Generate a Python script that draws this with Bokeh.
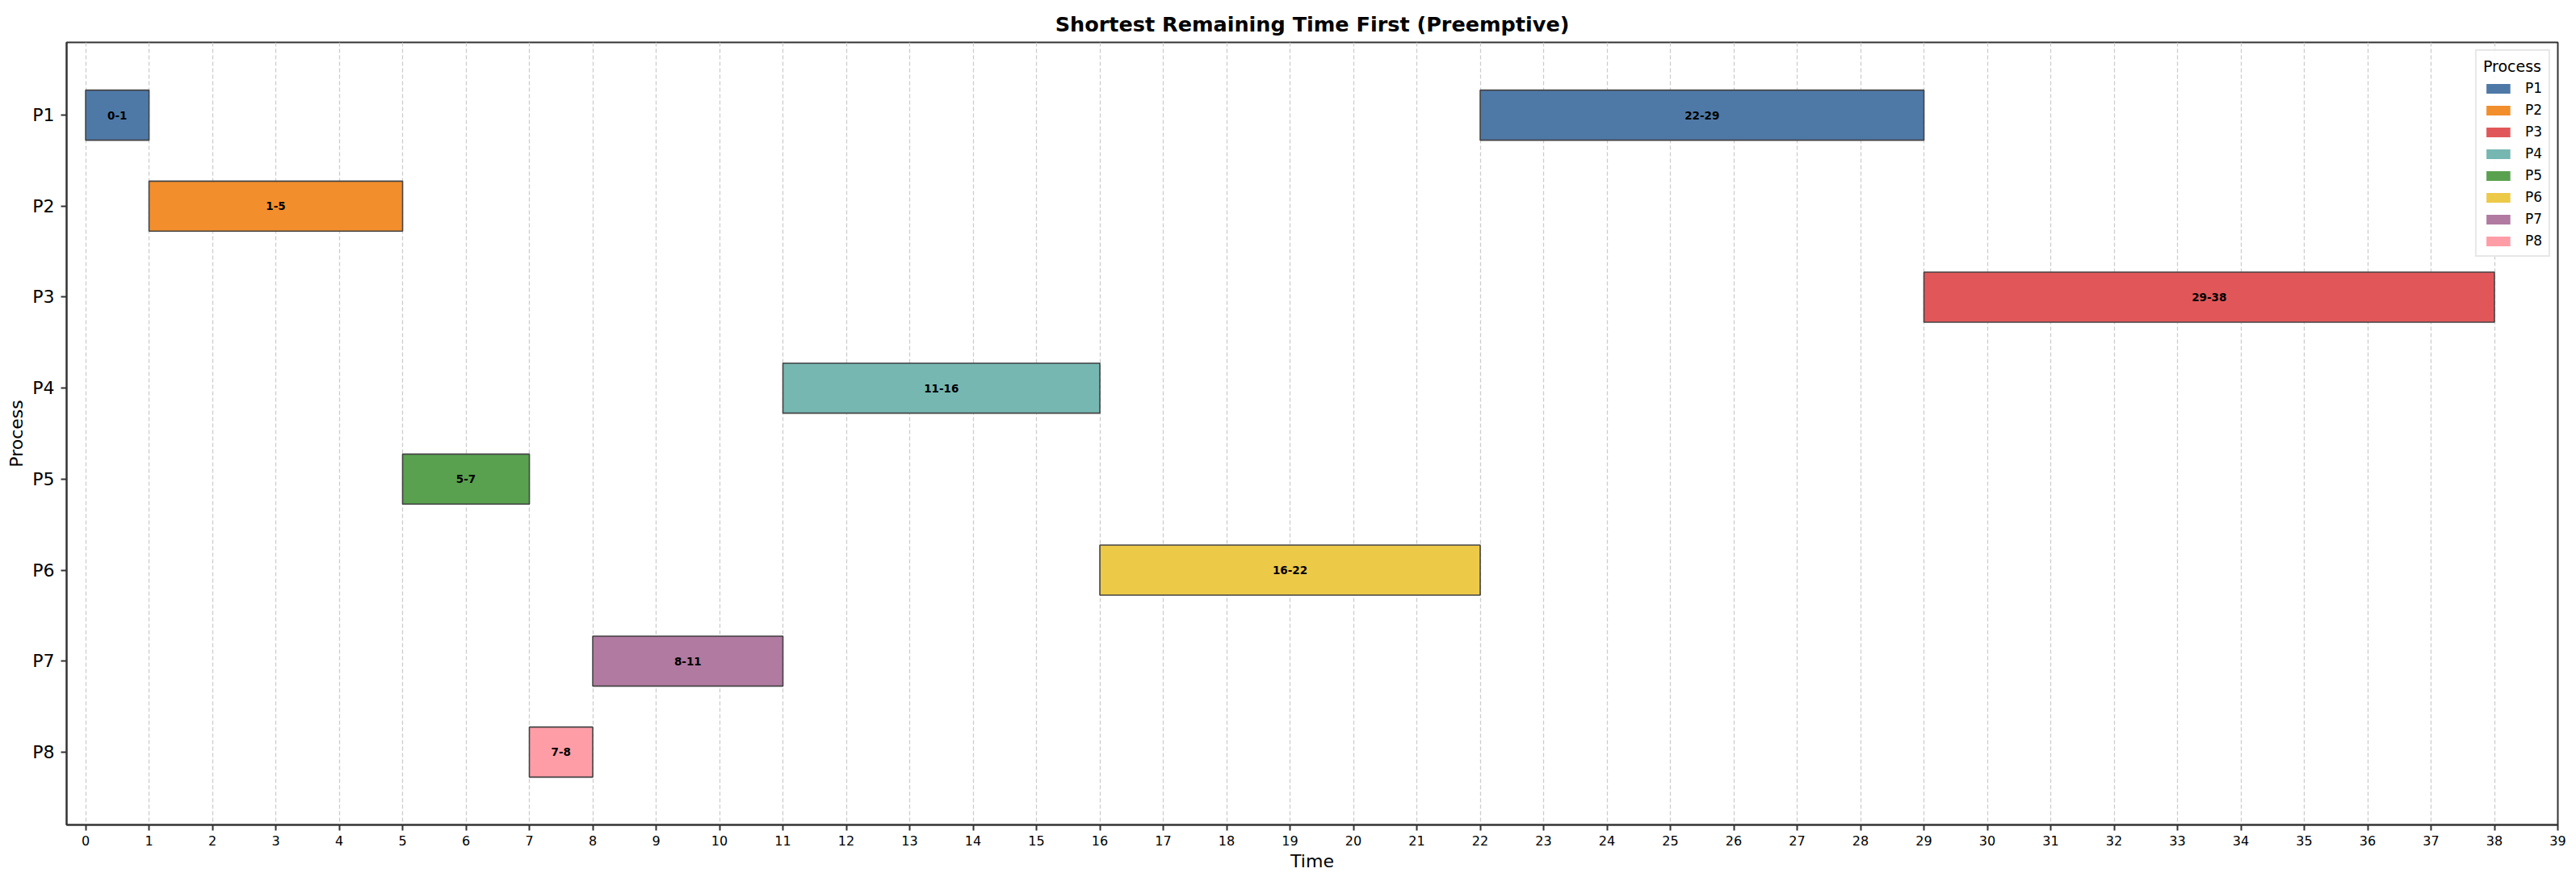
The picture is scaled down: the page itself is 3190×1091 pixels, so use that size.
from bokeh.plotting import figure
from bokeh.models import ColumnDataSource, Range1d, FixedTicker, Legend, LegendItem
from bokeh.core.properties import value
from bokeh.embed import file_html
from bokeh.resources import INLINE

processes = ["P1", "P2", "P3", "P4", "P5", "P6", "P7", "P8"]
colors = ["#4e79a7", "#f28e2b", "#e15759", "#76b7b2", "#59a14f", "#edc948", "#b07aa1", "#ff9da7"]

seg_process = ["P1", "P2", "P5", "P8", "P7", "P4", "P6", "P1", "P3"]
seg_start = [0, 1, 5, 7, 8, 11, 16, 22, 29]
seg_end = [1, 5, 7, 8, 11, 16, 22, 29, 38]

x_ticks = list(range(0, 40))

FONT = "DejaVu Sans"

p = figure(width=3190, height=1091, output_backend="svg", toolbar_location=None,
           x_range=Range1d(-0.3, 39), y_range=Range1d(7.8, -0.8),
           min_border_left=82, min_border_right=23, min_border_top=52, min_border_bottom=70,
           title="Shortest Remaining Time First (Preemptive)")

p.title.align = "center"
p.title.text_font = FONT
p.title.text_font_size = "25.5px"
p.title.text_font_style = "bold"
p.title.text_color = "#000000"
p.title.standoff = 16

p.outline_line_color = "#333333"
p.outline_line_width = 2
p.background_fill_color = "white"
p.border_fill_color = "white"

legend_items = []
for i, proc in enumerate(processes):
    idx = [k for k, s in enumerate(seg_process) if s == proc]
    src = ColumnDataSource(dict(
        y=[i] * len(idx),
        left=[seg_start[k] for k in idx],
        right=[seg_end[k] for k in idx],
        xc=[(seg_start[k] + seg_end[k]) / 2 for k in idx],
        lab=[f"{seg_start[k]}-{seg_end[k]}" for k in idx],
    ))
    p.hbar(y="y", left="left", right="right", height=0.55, source=src,
           fill_color=colors[i], line_color="#444444", line_width=1.6)
    p.text(x="xc", y="y", text="lab", source=src, text_align="center", text_baseline="middle",
           text_font=value(FONT), text_font_size="13.5px", text_font_style="bold", text_color="#000000")
    # legend swatch without edge (one zero-width bar, drawn with no outline)
    swatch = ColumnDataSource(dict(y=[i], left=[seg_start[idx[0]]], right=[seg_start[idx[0]]]))
    rl = p.hbar(y="y", left="left", right="right", height=0.55, source=swatch,
                fill_color=colors[i], line_color=None)
    legend_items.append(LegendItem(label=proc, renderers=[rl]))

legend = Legend(items=legend_items, location="top_right", title="Process")
legend.title_text_font = FONT
legend.title_text_font_size = "19px"
legend.title_text_font_style = "normal"
legend.title_text_color = "#000000"
legend.title_standoff = 6
legend.label_text_font = FONT
legend.label_text_font_size = "17px"
legend.label_text_color = "#000000"
legend.glyph_width = 37
legend.glyph_height = 15
legend.label_height = 20
legend.spacing = 7
legend.label_standoff = 15
legend.padding = 8
legend.margin = 9
legend.border_line_color = "#d0d0d0"
legend.border_line_width = 2
legend.background_fill_alpha = 0.9
p.add_layout(legend)

# x axis
p.xaxis.ticker = FixedTicker(ticks=x_ticks)
p.xaxis.axis_label = "Time"
p.xaxis.axis_label_text_font = FONT
p.xaxis.axis_label_text_font_size = "22px"
p.xaxis.axis_label_text_font_style = "normal"
p.xaxis.axis_label_standoff = 4
p.xaxis.major_label_text_font = FONT
p.xaxis.major_label_text_font_size = "16px"
p.xaxis.major_label_standoff = 6
p.xaxis.minor_tick_line_color = None

# y axis
p.yaxis.ticker = FixedTicker(ticks=list(range(len(processes))))
p.yaxis.major_label_overrides = {i: name for i, name in enumerate(processes)}
p.yaxis.axis_label = "Process"
p.yaxis.axis_label_text_font = FONT
p.yaxis.axis_label_text_font_size = "22px"
p.yaxis.axis_label_text_font_style = "normal"
p.yaxis.axis_label_standoff = 4
p.yaxis.major_label_text_font = FONT
p.yaxis.major_label_text_font_size = "22px"
p.yaxis.major_label_standoff = 8
p.yaxis.minor_tick_line_color = None

for ax in (p.xaxis, p.yaxis):
    ax.axis_line_color = "#333333"
    ax.axis_line_width = 2
    ax.major_tick_line_color = "#333333"
    ax.major_tick_line_width = 2
    ax.major_tick_out = 7
    ax.major_tick_in = 0
    ax.major_label_text_color = "#000000"
    ax.axis_label_text_color = "#000000"

p.xgrid.ticker = FixedTicker(ticks=x_ticks)
p.xgrid.grid_line_color = "#cccccc"
p.xgrid.grid_line_dash = "5 3"
p.xgrid.grid_line_width = 1.3
p.ygrid.grid_line_color = None

open("out.html", "w").write(file_html(p, INLINE))
